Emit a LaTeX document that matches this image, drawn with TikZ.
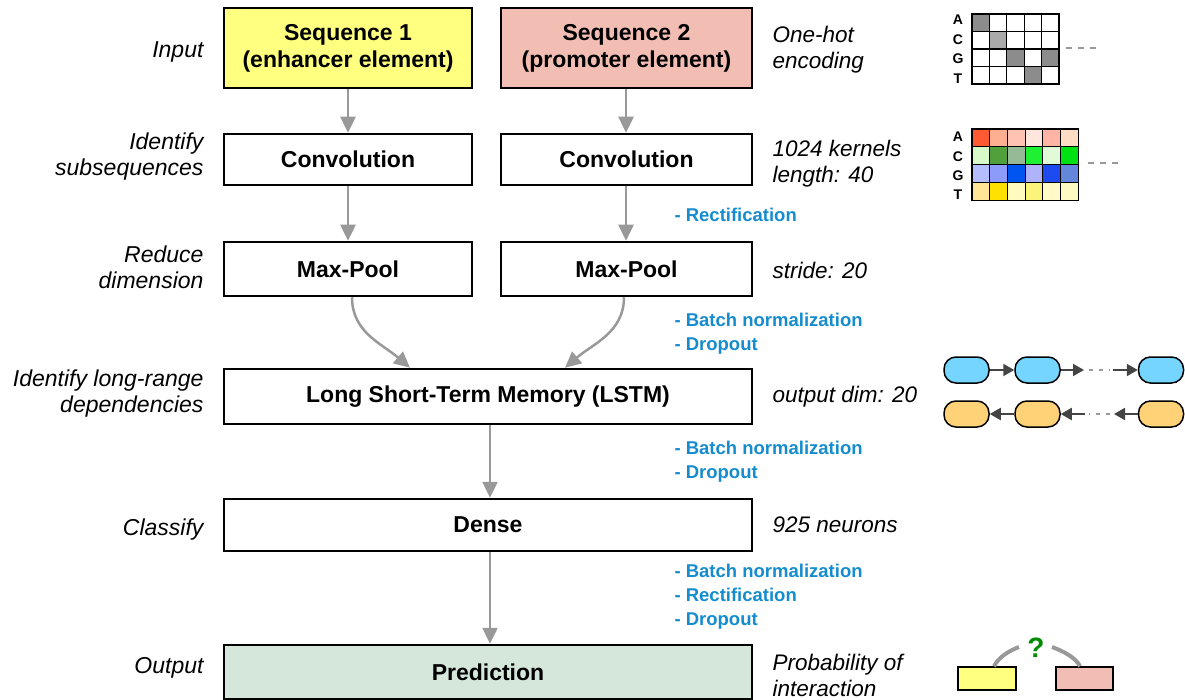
\documentclass[tikz,border=0pt]{standalone}
\usepackage{fontspec}
\setmainfont{Liberation Sans}
\usetikzlibrary{arrows.meta}
\definecolor{seqA}{RGB}{255,255,128}
\definecolor{seqB}{RGB}{242,189,179}
\definecolor{predC}{RGB}{213,230,218}
\definecolor{arrowG}{RGB}{153,153,153}
\definecolor{blueT}{RGB}{20,140,205}
\definecolor{pillB}{RGB}{117,213,255}
\definecolor{pillO}{RGB}{255,210,120}
\definecolor{darkA}{RGB}{68,68,68}
\definecolor{qgreen}{RGB}{0,140,0}
\begin{document}
\begin{tikzpicture}[x=1pt,y=-1pt,
  box/.style={draw=black, line width=2.5pt, inner sep=0pt, align=center,
    font=\fontsize{23}{27}\selectfont\bfseries},
  flow/.style={draw=arrowG, line width=2.5pt, -{Triangle[length=16pt,width=15pt]}},
  lbl/.style={anchor=east, align=right, font=\fontsize{23}{26}\selectfont\itshape},
  rlbl/.style={anchor=west, align=left, font=\fontsize{22.5}{26}\selectfont\itshape},
  note/.style={anchor=west, align=left, text=blueT, font=\fontsize{18.5}{24}\selectfont\bfseries},
  glet/.style={font=\fontsize{14}{14}\selectfont\bfseries, inner sep=0pt},
  pill/.style={draw=black, line width=1.5pt, rounded corners=12pt, minimum width=45pt, minimum height=26pt, inner sep=0pt},
  small/.style={draw=darkA, line width=2pt, -{Triangle[length=11pt,width=12pt]}},
  dots/.style={draw=arrowG, line width=2.5pt, dash pattern=on 4pt off 6pt}
]
\useasboundingbox (0,0) rectangle (1185,700);

% main boxes
\node[box, fill=seqA, minimum width=248pt, minimum height=80pt] (s1) at (348,48) {Sequence 1\\(enhancer element)};
\node[box, fill=seqB, minimum width=251pt, minimum height=80pt] (s2) at (626.5,48) {Sequence 2\\(promoter element)};
\node[box, minimum width=248pt, minimum height=51pt] (c1) at (348,159.5) {Convolution};
\node[box, minimum width=251pt, minimum height=51pt] (c2) at (626.5,159.5) {Convolution};
\node[box, minimum width=248pt, minimum height=54pt] (m1) at (348,269) {Max-Pool};
\node[box, minimum width=251pt, minimum height=54pt] (m2) at (626.5,269) {Max-Pool};
\node[box, minimum width=528pt, minimum height=55pt] (lstm) at (488,396.5) {Long Short-Term Memory (LSTM)};
\node[box, minimum width=528pt, minimum height=52pt] (dense) at (488,525) {Dense};
\node[box, fill=predC, minimum width=528pt, minimum height=54pt] (pred) at (488,672) {Prediction};

% connectors
\draw[flow] (s1) -- (c1);
\draw[flow] ([xshift=-0.5pt]s2.south) -- ([xshift=-0.5pt]c2.north);
\draw[flow] (c1) -- (m1);
\draw[flow] ([xshift=-0.5pt]c2.south) -- ([xshift=-0.5pt]m2.north);
\draw[flow] ([xshift=4pt]m1.south) .. controls +(0,35) and +(-28,-24) .. ([xshift=-78pt]lstm.north);
\draw[flow] ([xshift=-2.5pt]m2.south) .. controls +(0,35) and +(28,-24) .. ([xshift=77pt]lstm.north);
\draw[flow] ([xshift=2pt]lstm.south) -- ([xshift=2pt]dense.north);
\draw[flow] ([xshift=2pt]dense.south) -- ([xshift=2pt]pred.north);

% left labels
\node[lbl] (l1) at (207,52) {Input};
\node[lbl] (l2) at (207,157) {Identify\\subsequences};
\node[lbl] (l3) at (207,267) {Reduce\\dimension};
\node[lbl] (l4) at (207,394) {Identify long-range\\dependencies};
\node[lbl] (l5) at (207,530) {Classify};
\node[lbl] (l6) at (207,668) {Output};

% right labels
\node[rlbl] (r1) at (769,50) {One-hot\\encoding};
\node[rlbl] (r2) at (769,164) {1024 kernels\\length: 40};
\node[rlbl] (r3) at (769,270) {stride: 20};
\node[rlbl] (r4) at (769,397) {output dim: 20};
\node[rlbl] (r5) at (769,525) {925 neurons};
\node[rlbl] (r6) at (769,675) {Probability of\\interaction};

% blue notes
\node[note] (n1) at (671,215) {- Rectification};
\node[note] (n2) at (671,334) {- Batch normalization\\- Dropout};
\node[note] (n3) at (671,462) {- Batch normalization\\- Dropout};
\node[note] (n4) at (671,597) {- Batch normalization\\- Rectification\\- Dropout};

% one-hot grid
\foreach \c/\r/\h in {0/0/8C8C8C,1/1/AAAAAA,2/2/8C8C8C,4/2/8C8C8C,3/3/8C8C8C}{
  \definecolor{tmpc}{HTML}{\h}
  \fill[tmpc] (972+\c*17.4,14+\r*17.5) rectangle ++(17.4,17.5);
}
\foreach \c in {0,...,4}{\foreach \r in {0,...,3}{
  \draw[black, line width=1.2pt] (972+\c*17.4,14+\r*17.5) rectangle ++(17.4,17.5);}}
\node[glet] (ga) at (958,20) {A};
\node[glet] (gc) at (958,39.5) {C};
\node[glet] (gg) at (958,59) {G};
\node[glet] (gt) at (958,78.5) {T};
\draw[draw=arrowG, line width=2.5pt, dash pattern=on 6pt off 6pt] (1066,48) -- (1096,48);

% kernel grid
\foreach \c/\r/\h in {0/0/FF5A32,1/0/FFAF91,2/0/FFC3B4,3/0/FFE6DC,4/0/FFB4A5,5/0/FFDCC3,
  0/1/D7FAC8,1/1/50A03C,2/1/96B996,3/1/1EF032,4/1/E1FAD7,5/1/00E114,
  0/2/B4BEFF,1/2/8C9BFA,2/2/0055F0,3/2/AFB4FA,4/2/1E4BF0,5/2/6487DC,
  0/3/FFE696,1/3/FFE100,2/3/FFFABE,3/3/FAF578,4/3/FFFAC8,5/3/FFFAC3}{
  \definecolor{tmpc}{HTML}{\h}
  \fill[tmpc] (972+\c*17.7,129+\r*17.8) rectangle ++(17.7,17.8);
}
\foreach \c in {0,...,5}{\foreach \r in {0,...,3}{
  \draw[black, line width=1.2pt] (972+\c*17.7,129+\r*17.8) rectangle ++(17.7,17.8);}}
\node[glet] (ka) at (958,137) {A};
\node[glet] (kc) at (958,156.5) {C};
\node[glet] (kg) at (958,176) {G};
\node[glet] (kt) at (958,195) {T};
\draw[draw=arrowG, line width=2.5pt, dash pattern=on 6pt off 6pt] (1088,163) -- (1118,163);

% LSTM icon
\node[pill, fill=pillB] (b1) at (966.5,370) {};
\node[pill, fill=pillB] (b2) at (1037.5,370) {};
\node[pill, fill=pillB] (b3) at (1161,370) {};
\node[pill, fill=pillO] (o1) at (966.5,414) {};
\node[pill, fill=pillO] (o2) at (1037.5,414) {};
\node[pill, fill=pillO] (o3) at (1161,414) {};
\coordinate (bt1) at (1084,370);
\coordinate (bd1) at (1089,370);
\coordinate (bd2) at (1110,370);
\coordinate (bt2) at (1113,370);
\coordinate (ot1) at (1114,414);
\coordinate (od1) at (1110,414);
\coordinate (od2) at (1089,414);
\coordinate (ot2) at (1085,414);
\draw[small] (b1) -- (b2);
\draw[small] (b2) -- (bt1);
\draw[dots] (bd1) -- (bd2);
\draw[small] (bt2) -- (b3);
\draw[small] (o2) -- (o1);
\draw[small] (o3) -- (ot1);
\draw[dots] (od1) -- (od2);
\draw[small] (ot2) -- (o2);

% prediction icon
\node[draw=black, line width=1.5pt, fill=seqA, minimum width=58pt, minimum height=23pt, inner sep=0pt] (py) at (987,678.5) {};
\node[draw=black, line width=1.5pt, fill=seqB, minimum width=57pt, minimum height=23pt, inner sep=0pt] (pp) at (1084.5,678.5) {};
\node[text=qgreen, font=\fontsize{28}{28}\selectfont\bfseries, inner sep=0pt] (q) at (1036,648) {?};
\draw[arrowG, line width=4pt] ([xshift=7pt]py.north) .. controls +(5,-10) and +(-8,3) .. (1019,647);
\draw[arrowG, line width=4pt] ([xshift=-4.5pt]pp.north) .. controls +(-5,-10) and +(8,3) .. (1052,647);
\end{tikzpicture}
\end{document}
